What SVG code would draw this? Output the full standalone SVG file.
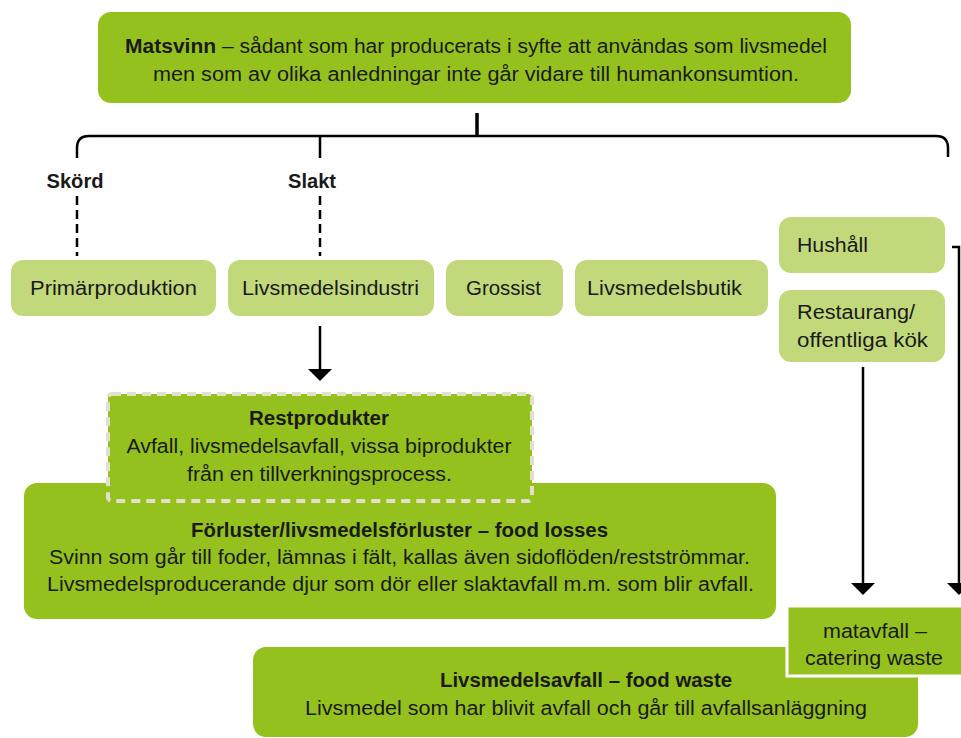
<svg xmlns="http://www.w3.org/2000/svg" width="961" height="738" viewBox="0 0 961 738">
<style>
  text { font-family: "Liberation Sans", Arial, sans-serif; font-size: 20px; fill: #1a1a1a; }
  .b { font-weight: bold; }
  .c { text-anchor: middle; }
  .dark { fill: #95c11f; }
  .light { fill: #c2d97b; }
  .line { fill: none; stroke: #000; stroke-width: 2.5; }
  .dash { fill: none; stroke: #000; stroke-width: 2.5; stroke-dasharray: 9 5; }
  .head { fill: #000; }
</style>

<g id="matsvinn">
  <rect x="98" y="12" width="753" height="91" rx="13" class="dark"/>
  <text x="476" y="53" class="c" textLength="702" lengthAdjust="spacingAndGlyphs"><tspan class="b">Matsvinn</tspan> – sådant som har producerats i syfte att användas som livsmedel</text>
  <text x="476" y="81" class="c" textLength="646" lengthAdjust="spacingAndGlyphs">men som av olika anledningar inte går vidare till humankonsumtion.</text>
</g>

<g id="connectors">
  <path class="line" d="M77,158 L77,148 Q77,136 89,136 L936,136 Q948,136 948,148 L948,157"/>
  <path d="M477,113 L477,136" stroke="#000" stroke-width="3.5" fill="none"/>
  <path class="line" d="M320,136 L320,158"/>
  <path class="dash" d="M77,196 L77,256"/>
  <path class="dash" d="M320,196 L320,256"/>
  <path class="line" d="M320,326 L320,370"/>
  <polygon class="head" points="308,369 332,369 320,381"/>
  <path class="line" d="M863,367 L863,584"/>
  <polygon class="head" points="851,583 875,583 863,595"/>
  <path class="line" d="M952,247 L959,247 L959,584"/>
  <polygon class="head" points="947,583 971,583 959,595"/>
</g>

<g id="label-skord"><text x="75" y="188" class="b c" textLength="57" lengthAdjust="spacingAndGlyphs">Skörd</text></g>
<g id="label-slakt"><text x="312" y="188" class="b c" textLength="48" lengthAdjust="spacingAndGlyphs">Slakt</text></g>

<g id="primarproduktion">
  <rect x="11" y="260" width="205" height="56" rx="12" class="light"/>
  <text x="113.5" y="295" class="c" textLength="167" lengthAdjust="spacingAndGlyphs">Primärproduktion</text>
</g>
<g id="livsmedelsindustri">
  <rect x="228" y="260" width="206" height="56" rx="12" class="light"/>
  <text x="330.5" y="295" class="c" textLength="177" lengthAdjust="spacingAndGlyphs">Livsmedelsindustri</text>
</g>
<g id="grossist">
  <rect x="446" y="260" width="117" height="56" rx="12" class="light"/>
  <text x="503.5" y="295" class="c" textLength="75" lengthAdjust="spacingAndGlyphs">Grossist</text>
</g>
<g id="livsmedelsbutik">
  <rect x="575" y="260" width="193" height="56" rx="12" class="light"/>
  <text x="664.5" y="295" class="c" textLength="155" lengthAdjust="spacingAndGlyphs">Livsmedelsbutik</text>
</g>
<g id="hushall">
  <rect x="779" y="217" width="166" height="56" rx="12" class="light"/>
  <text x="797" y="252" textLength="71" lengthAdjust="spacingAndGlyphs">Hushåll</text>
</g>
<g id="restaurang">
  <rect x="779" y="290" width="166" height="72" rx="12" class="light"/>
  <text x="797" y="319" textLength="118" lengthAdjust="spacingAndGlyphs">Restaurang/</text>
  <text x="797" y="347" textLength="131" lengthAdjust="spacingAndGlyphs">offentliga kök</text>
</g>

<g id="food-losses">
  <rect x="24" y="483" width="752" height="136" rx="13" class="dark"/>
  <text x="399.5" y="537" class="b c" textLength="417" lengthAdjust="spacingAndGlyphs">Förluster/livsmedelsförluster – food losses</text>
  <text x="399.5" y="564" class="c" textLength="701" lengthAdjust="spacingAndGlyphs">Svinn som går till foder, lämnas i fält, kallas även sidoflöden/restströmmar.</text>
  <text x="400.5" y="591" class="c" textLength="707" lengthAdjust="spacingAndGlyphs">Livsmedelsproducerande djur som dör eller slaktavfall m.m. som blir avfall.</text>
</g>

<g id="restprodukter">
  <rect x="108" y="394" width="424" height="107" rx="4" class="dark" stroke="#e2dfcb" stroke-width="4" stroke-dasharray="9 6"/>
  <text x="319" y="425" class="b c" textLength="140" lengthAdjust="spacingAndGlyphs">Restprodukter</text>
  <text x="319" y="453" class="c" textLength="385" lengthAdjust="spacingAndGlyphs">Avfall, livsmedelsavfall, vissa biprodukter</text>
  <text x="319.5" y="481" class="c" textLength="265" lengthAdjust="spacingAndGlyphs">från en tillverkningsprocess.</text>
</g>

<g id="food-waste">
  <rect x="253" y="647" width="665" height="90" rx="13" class="dark"/>
  <text x="586" y="687" class="b c" textLength="292" lengthAdjust="spacingAndGlyphs">Livsmedelsavfall – food waste</text>
  <text x="586" y="715" class="c" textLength="562" lengthAdjust="spacingAndGlyphs">Livsmedel som har blivit avfall och går till avfallsanläggning</text>
</g>

<g id="matavfall">
  <rect x="787" y="606" width="190" height="70" class="dark" stroke="#fff" stroke-width="3"/>
  <text x="875" y="638" class="c" textLength="104" lengthAdjust="spacingAndGlyphs">matavfall –</text>
  <text x="874" y="665" class="c" textLength="138" lengthAdjust="spacingAndGlyphs">catering waste</text>
</g>
</svg>
